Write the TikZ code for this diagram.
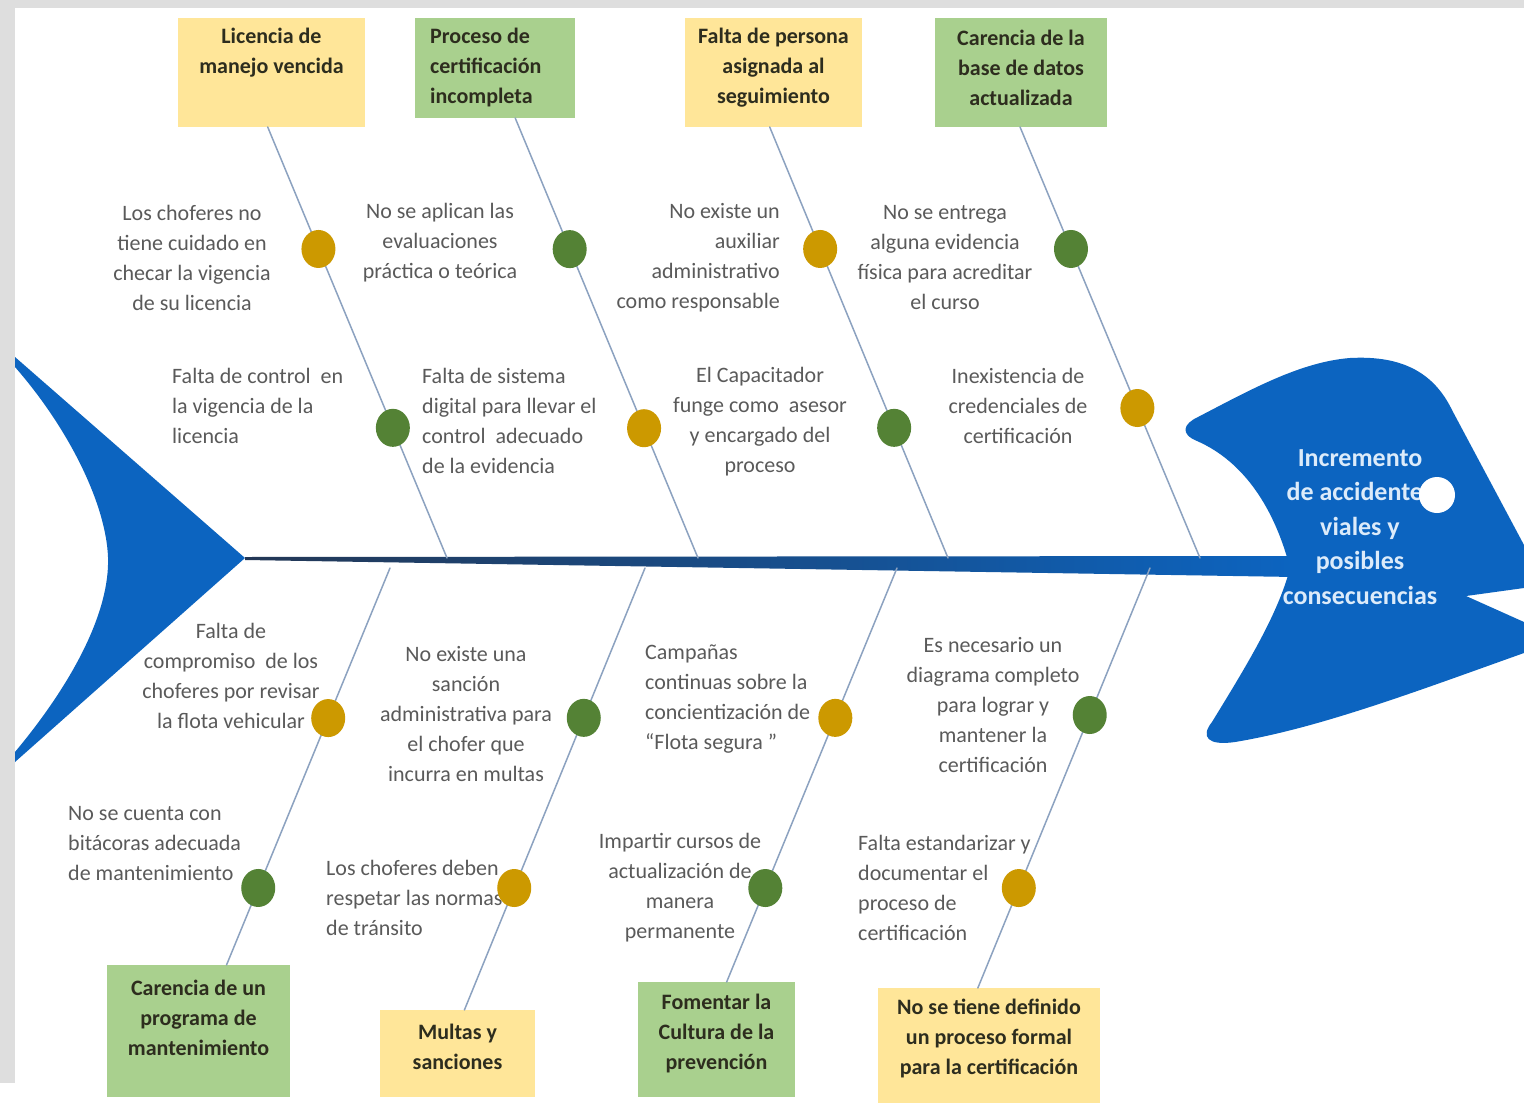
\documentclass[tikz,border=0pt]{standalone}
\usepackage{fontspec}
\setmainfont{Carlito}
\usetikzlibrary{calc,shapes.geometric}
\definecolor{fishblue}{RGB}{12,100,192}
\definecolor{spinedark}{RGB}{35,55,85}
\definecolor{boxyellow}{RGB}{255,230,153}
\definecolor{boxgreen}{RGB}{169,208,142}
\definecolor{dotgold}{RGB}{204,153,0}
\definecolor{dotgreen}{RGB}{84,130,53}
\definecolor{bonecol}{RGB}{140,162,192}
\definecolor{causegrey}{RGB}{90,90,90}
\definecolor{boxtext}{RGB}{45,45,30}
\definecolor{framegrey}{RGB}{222,222,222}
\tikzset{
	ybox/.style={fill=boxyellow, inner sep=0pt, outer sep=0pt},
	gbox/.style={fill=boxgreen, inner sep=0pt, outer sep=0pt},
	btxt/.style={font=\fontsize{22}{30}\selectfont\bfseries, text=boxtext, align=center, inner sep=0pt},
	cause/.style={font=\fontsize{22}{30}\selectfont, text=causegrey, inner sep=0pt},
	ydot/.style={ellipse, fill=dotgold, minimum width=34, minimum height=38, inner sep=0pt},
	gdot/.style={ellipse, fill=dotgreen, minimum width=34, minimum height=38, inner sep=0pt},
	bone/.style={draw=bonecol, line width=1.5pt},
	headtxt/.style={font=\fontsize{26}{34.5}\selectfont\bfseries, text={rgb,255:red,220;green,235;blue,250}, align=center, inner sep=0pt},
	eye/.style={circle, fill=white, minimum size=36, inner sep=0pt}
}
\begin{document}
\begin{tikzpicture}[x=1pt, y=-1pt, line join=round, line cap=round]
	\useasboundingbox (0,0) rectangle (1524,1103);
	\fill[white] (0,0) rectangle (1524,1103);
	\fill[framegrey] (0,0) rectangle (15,1083);
	\fill[framegrey] (0,0) rectangle (1524,8);
	% tail, spine and head
	\fill[fishblue] (15,357) -- (245,558) -- (15,762) -- (15,752)
		.. controls (75,680) and (110,610) .. (108,557)
		.. controls (106,505) and (70,430) .. (15,367) -- cycle;
	\shade[left color=spinedark, right color=fishblue] (245,557) -- (1295,556) -- (1295,577) -- (245,560) -- cycle;
	\fill[fishblue] (1290,568) .. controls (1275,510) and (1245,462) .. (1197,441)
		.. controls (1180,434) and (1183,424) .. (1198,417)
		.. controls (1250,390) and (1300,362) .. (1350,358)
		.. controls (1405,355) and (1435,375) .. (1452,410)
		-- (1524,545) -- (1524,588) -- (1466,596) -- (1524,622) -- (1524,653)
		.. controls (1420,690) and (1320,728) .. (1235,742)
		.. controls (1208,746) and (1200,737) .. (1212,722)
		.. controls (1245,668) and (1278,615) .. (1290,568) -- cycle;
	\node[headtxt] (effect) at (1360,527) {Incremento\\de accidentes\\viales y\\posibles\\consecuencias};
	\node[eye] (eye) at (1437,495) {};
	% category boxes
	\node[ybox, minimum width=187, minimum height=109] (lic) at (271.5,72.5) {};
	\node[gbox, minimum width=160, minimum height=100] (cert) at (495,68) {};
	\node[ybox, minimum width=177, minimum height=109] (pers) at (773.5,72.5) {};
	\node[gbox, minimum width=172, minimum height=109] (base) at (1021,72.5) {};
	\node[gbox, minimum width=183, minimum height=132] (mant) at (198.5,1031) {};
	\node[ybox, minimum width=155, minimum height=87] (mult) at (457.5,1053.5) {};
	\node[gbox, minimum width=157, minimum height=115] (prev) at (716.5,1039.5) {};
	\node[ybox, minimum width=222, minimum height=115] (form) at (989,1045.5) {};
	\node[btxt] (lic-t) at (271.5,53) {Licencia de\\manejo vencida};
	\node[btxt, align=left, anchor=west] (cert-t) at (430,68) {Proceso de\\certificación\\incompleta};
	\node[btxt] (pers-t) at (773.5,68) {Falta de persona\\asignada al\\seguimiento};
	\node[btxt] (base-t) at (1021,68) {Carencia de la\\base de datos\\actualizada};
	\node[btxt] (mant-t) at (198.5,1018) {Carencia de un\\programa de\\mantenimiento};
	\node[btxt] (mult-t) at (457.5,1047) {Multas y\\sanciones};
	\node[btxt] (prev-t) at (716.5,1033) {Fomentar la\\Cultura de la\\prevención};
	\node[btxt] (form-t) at (989,1038) {No se tiene definido\\un proceso formal\\para la certificación};
	% causes
	\node[cause, align=center] (c1) at (192,258) {Los choferes no\\tiene cuidado en\\checar la vigencia\\de su licencia};
	\node[cause, align=center] (c2) at (440,243) {No se aplican las\\evaluaciones\\práctica o teórica};
	\node[cause, align=right, anchor=east] (c3) at (780,258) {No existe un\\auxiliar\\administrativo\\como responsable};
	\node[cause, align=center] (c4) at (945,258) {No se entrega\\alguna evidencia\\física para acreditar\\el curso};
	\node[cause, align=left, anchor=west] (c5) at (172,406) {Falta de control\ \ en\\la vigencia de la\\licencia};
	\node[cause, align=left, anchor=west] (c6) at (422,421) {Falta de sistema\\digital para llevar el\\control\ \ adecuado\\de la evidencia};
	\node[cause, align=center] (c7) at (760,422) {El Capacitador\\funge como\ \ asesor\\y encargado del\\proceso};
	\node[cause, align=center] (c8) at (1018,406) {Inexistencia de\\credenciales de\\certificación};
	\node[cause, align=center] (c9) at (231,676) {Falta de\\compromiso\ \ de los\\choferes por revisar\\la flota vehicular};
	\node[cause, align=center] (c10) at (466,714) {No existe una\\sanción\\administrativa para\\el chofer que\\incurra en multas};
	\node[cause, align=left, anchor=west] (c11) at (645,699) {Campañas\\continuas sobre la\\concientización de\\“Flota segura ”};
	\node[cause, align=center] (c12) at (993,705) {Es necesario un\\diagrama completo\\para lograr y\\mantener la\\certificación};
	\node[cause, align=left, anchor=west] (c13) at (68,844) {No se cuenta con\\bitácoras adecuada\\de mantenimiento};
	\node[cause, align=left, anchor=west] (c14) at (326,898) {Los choferes deben\\respetar las normas\\de tránsito};
	\node[cause, align=center] (c15) at (680,888) {Impartir cursos de\\actualización de\\manera\\permanente};
	\node[cause, align=left, anchor=west] (c16) at (858,888) {Falta estandarizar y\\documentar el\\proceso de\\certificación};
	% bones
	\coordinate (s1) at (447,558);
	\coordinate (s2) at (698,558);
	\coordinate (s3) at (948,558);
	\coordinate (s4) at (1200,558);
	\coordinate (s5) at (390,568);
	\coordinate (s6) at (645,568);
	\coordinate (s7) at (897,568);
	\coordinate (s8) at (1150,568);
	\draw[bone] (lic.266) -- (s1);
	\draw[bone] (cert.292) -- (s2);
	\draw[bone] (pers.266) -- (s3);
	\draw[bone] (base.269) -- (s4);
	\draw[bone] (s5) -- (mant.67);
	\draw[bone] (s6) -- (mult.81.5);
	\draw[bone] (s7) -- (prev.80);
	\draw[bone] (s8) -- (form.101);
	\node[ydot] (d1) at ($(lic.266)!0.283!(s1)$) {};
	\node[gdot] (d2) at ($(lic.266)!0.698!(s1)$) {};
	\node[gdot] (d3) at ($(cert.292)!0.298!(s2)$) {};
	\node[ydot] (d4) at ($(cert.292)!0.705!(s2)$) {};
	\node[ydot] (d5) at ($(pers.266)!0.283!(s3)$) {};
	\node[gdot] (d6) at ($(pers.266)!0.698!(s3)$) {};
	\node[gdot] (d7) at ($(base.269)!0.283!(s4)$) {};
	\node[ydot] (d8) at ($(base.269)!0.652!(s4)$) {};
	\node[ydot] (d9) at ($(s5)!0.378!(mant.67)$) {};
	\node[gdot] (d10) at ($(s5)!0.806!(mant.67)$) {};
	\node[gdot] (d11) at ($(s6)!0.339!(mult.81.5)$) {};
	\node[ydot] (d12) at ($(s6)!0.724!(mult.81.5)$) {};
	\node[ydot] (d13) at ($(s7)!0.362!(prev.80)$) {};
	\node[gdot] (d14) at ($(s7)!0.773!(prev.80)$) {};
	\node[gdot] (d15) at ($(s8)!0.35!(form.101)$) {};
	\node[ydot] (d16) at ($(s8)!0.762!(form.101)$) {};
\end{tikzpicture}
\end{document}
